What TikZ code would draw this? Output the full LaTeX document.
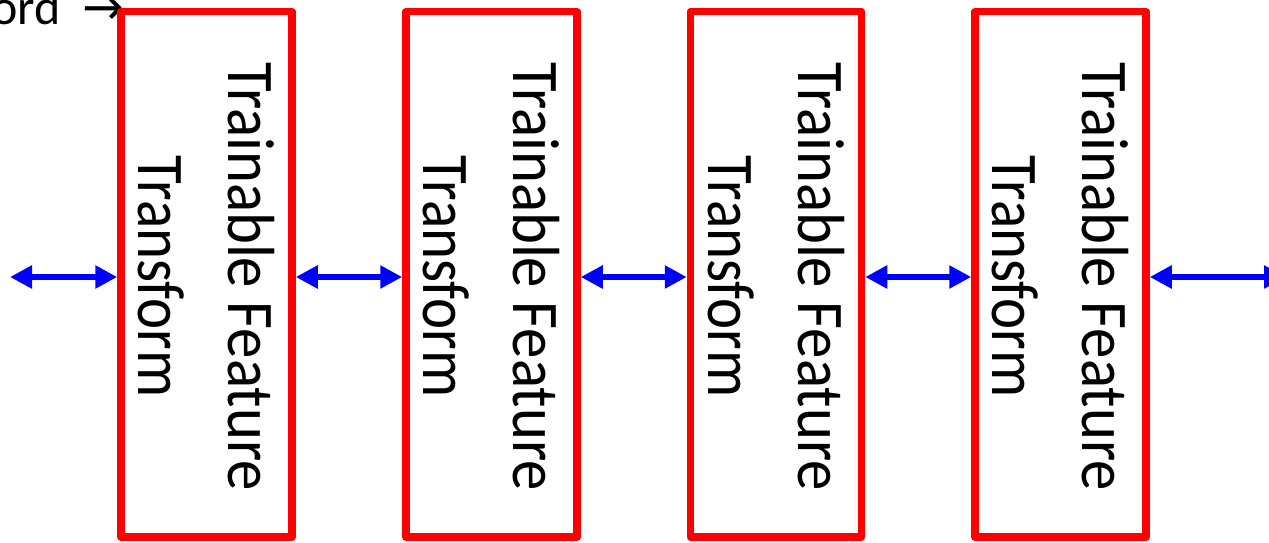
\documentclass[tikz,border=0pt]{standalone}
\usepackage{fontspec}
\usepackage{graphicx}
\setmainfont{Carlito}
\newfontfamily\symfont{DejaVu Sans}
\usetikzlibrary{arrows.meta}
\begin{document}
\begin{tikzpicture}[x=1pt,y=1pt,
  stage/.style={draw=red, line width=7.5pt, line join=round,
    minimum width=171pt, minimum height=525.5pt, inner sep=0pt},
  stagetext/.style={rotate=-90, align=center, inner sep=0pt,
    font=\fontsize{59}{90}\selectfont},
  link/.style={draw=blue, line width=6.5pt,
    {Triangle[length=22pt,width=22pt]}-{Triangle[length=22pt,width=22pt]}}
]
\useasboundingbox (0,0) rectangle (1269,542);

% caption at the top left, running off the page
\node[anchor=base east, inner sep=0pt, font=\fontsize{50}{58}\selectfont]
  (capw) at (61,517) {Word};
\node[anchor=base east, inner sep=0pt, font=\symfont\fontsize{40}{48}\selectfont]
  (capa) at (125,517) {\resizebox{42pt}{!}{→}};

% the four feature-transform stages
\foreach \i/\cx in {1/206.5, 2/491.5, 3/776, 4/1060.5} {
  \node[stage] (b\i) at (\cx,267.75) {};
  \node[stagetext] (t\i) at (\cx,265.5)
    {\scalebox{1.03}[1.13]{Trainable Feature}\\\scalebox{1}[1.13]{Transform}};
}

% connectors between stages
\coordinate (lin) at (10,265);
\coordinate (rout) at (1286,265);
\draw[link] (lin) -- (lin -| b1.west);
\draw[link] (b1.east |- lin) -- (b2.west |- lin);
\draw[link] (b2.east |- lin) -- (b3.west |- lin);
\draw[link] (b3.east |- lin) -- (b4.west |- lin);
\draw[link] (b4.east |- lin) -- (rout);
\end{tikzpicture}
\end{document}
